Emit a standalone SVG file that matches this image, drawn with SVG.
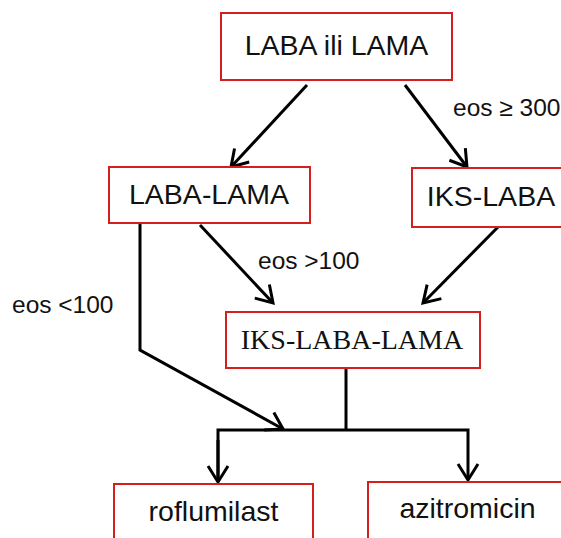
<svg xmlns="http://www.w3.org/2000/svg" width="561" height="538" viewBox="0 0 561 538">
<defs>
<style>
.box{fill:#fff;stroke:#d41f1f;stroke-width:2}
.t{font-family:"Liberation Sans",Arial,sans-serif;font-size:28.5px;fill:#111;text-anchor:middle}
.ts{font-family:"Liberation Serif","Times New Roman",serif;font-size:28px;fill:#111;text-anchor:middle}
.lbl{font-family:"Liberation Sans",Arial,sans-serif;font-size:24.5px;fill:#111}
.c{fill:none;stroke:#000;stroke-width:3;stroke-linejoin:miter}
</style>
<marker id="arr" markerUnits="userSpaceOnUse" markerWidth="40" markerHeight="40" refX="0" refY="0" viewBox="-20 -20 40 40" orient="auto" overflow="visible">
<path d="M-16,-10 L0,0 L-16,10" fill="none" stroke="#000" stroke-width="3"/>
</marker>
</defs>
<rect width="561" height="538" fill="#fff"/>
<g id="connectors">
<line class="c" x1="307" y1="85" x2="231" y2="167" marker-end="url(#arr)"/>
<line class="c" x1="405" y1="85" x2="467" y2="167" marker-end="url(#arr)"/>
<line class="c" x1="200" y1="225" x2="273" y2="303" marker-end="url(#arr)"/>
<line class="c" x1="499" y1="226" x2="423" y2="303" marker-end="url(#arr)"/>
<polyline class="c" points="140,224 140,350 283,429" marker-end="url(#arr)"/>
<line class="c" x1="346" y1="369" x2="346" y2="430"/>
<polyline class="c" points="218,482 218,430 468,430 468,480" marker-end="url(#arr)"/>
<line class="c" x1="218" y1="440" x2="218" y2="482" marker-end="url(#arr)"/>
<text class="lbl" x="453" y="116">eos ≥ 300</text>
<text class="lbl" x="258" y="269">eos &gt;100</text>
<text class="lbl" x="12" y="313">eos &lt;100</text>
</g>
<g id="n1"><rect class="box" x="221" y="13" width="231" height="67"/><text class="t" x="336.5" y="55">LABA ili LAMA</text></g>
<g id="n2"><rect class="box" x="109" y="167" width="201" height="56"/><text class="t" x="209" y="204">LABA-LAMA</text></g>
<g id="n3"><rect class="box" x="412" y="168" width="160" height="59"/><text class="t" x="491" y="206">IKS-LABA</text></g>
<g id="n4"><rect class="box" x="226" y="312" width="254" height="56"/><text class="ts" x="352" y="349">IKS-LABA-LAMA</text></g>
<g id="n5"><rect class="box" x="114" y="484" width="199" height="70"/><text class="t" x="213.5" y="521">roflumilast</text></g>
<g id="n6"><rect class="box" x="368" y="482" width="210" height="70"/><text class="t" x="467.5" y="518">azitromicin</text></g>
</svg>
